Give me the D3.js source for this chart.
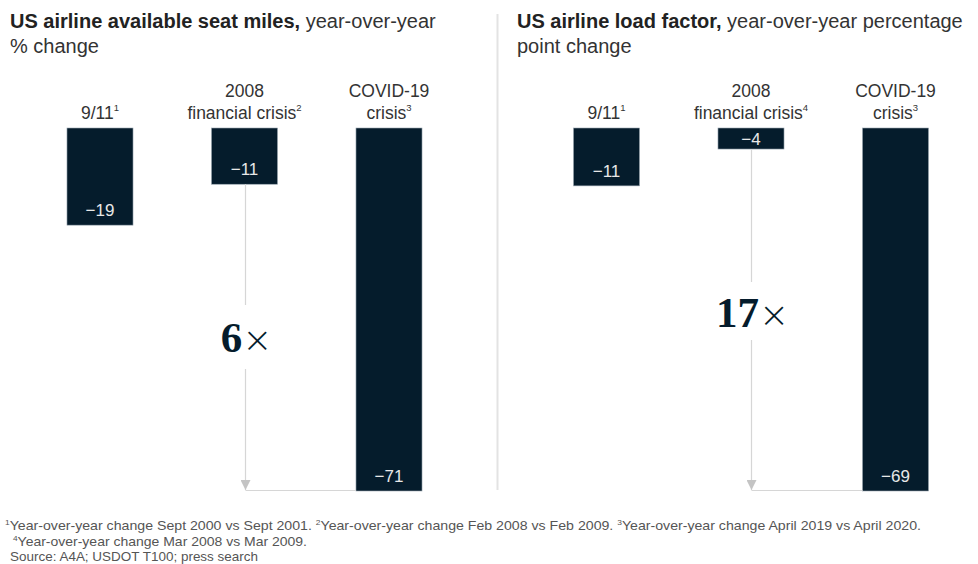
<!DOCTYPE html>
<html>
<head>
<meta charset="utf-8">
<script src="https://cdn.jsdelivr.net/npm/d3@7"></script>
<style>
  html, body { margin: 0; padding: 0; background: #fff; }
  svg { display: block; font-family: "Liberation Sans", Arial, sans-serif; }
</style>
</head>
<body>
<svg id="chart" width="978" height="564"></svg>
<script>
// Crisis categories (label lines + footnote marker)
const categories = ["9/11", "2008 financial crisis", "COVID-19 crisis"];
const seatLabels = [["9/11", "1"], ["2008", "financial crisis", "2"], ["COVID-19", "crisis", "3"]];
const loadLabels = [["9/11", "1"], ["2008", "financial crisis", "4"], ["COVID-19", "crisis", "3"]];

// Year-over-year changes
const seatMilesChange = [-19, -11, -71];   // % change
const loadFactorChange = [-11, -4, -69];   // percentage points

const seatMultiple = "6";
const loadMultiple = "17";

const footnotes = [
  [["1", "Year-over-year change Sept 2000 vs Sept 2001.  "], ["2", "Year-over-year change Feb 2008 vs Feb 2009.  "], ["3", "Year-over-year change April 2019 vs April 2020."]],
  [["4", "Year-over-year change Mar 2008 vs Mar 2009."]],
  [["", "Source: A4A; USDOT T100; press search"]]
];
const footnoteWidths = [916, 294, 248];

const navy = "#051c2c";
const svg = d3.select("#chart");

// Thin divider between panels
svg.append("line")
  .attr("x1", 497.5).attr("x2", 497.5).attr("y1", 14).attr("y2", 490)
  .attr("stroke", "#e3e3e3").attr("stroke-width", 2);

svg.append("defs").append("marker")
  .attr("id", "arrow").attr("viewBox", "0 0 10 10")
  .attr("refX", 10).attr("refY", 5)
  .attr("markerWidth", 12).attr("markerHeight", 10)
  .attr("markerUnits", "userSpaceOnUse")
  .attr("orient", "auto")
  .append("path").attr("d", "M0,0 L10,5 L0,10 Z").attr("fill", "#c4c4c4");

function panel(opts) {
  const g = svg.append("g");

  // Title: bold lead + regular continuation
  const t = g.append("text").attr("x", opts.tx).attr("y", 28)
    .attr("font-size", 20).attr("fill", "#222");
  t.append("tspan").attr("font-weight", "bold").text(opts.titleBold);
  t.append("tspan").attr("fill", "#333").text(opts.titleRest);
  g.append("text").attr("x", opts.tx).attr("y", 53)
    .attr("font-size", 20).attr("fill", "#333").text(opts.title2);

  const x = d3.scaleBand().domain(categories)
    .range(opts.xRange).paddingInner(0.543).paddingOuter(0.2715);
  const y = d3.scaleLinear().domain([0, d3.min(opts.values)]).range([128, 491]);

  const data = categories.map((c, i) => ({ cat: c, v: opts.values[i], lab: opts.labels[i] }));

  // Category labels above bars
  data.forEach(d => {
    const cx = x(d.cat) + x.bandwidth() / 2;
    const lines = d.lab.slice(0, -1);
    const sup = d.lab[d.lab.length - 1];
    lines.forEach((ln, k) => {
      const txt = g.append("text")
        .attr("x", cx).attr("y", 119 - (lines.length - 1 - k) * 22)
        .attr("text-anchor", "middle").attr("font-size", 17.5).attr("fill", "#333");
      txt.append("tspan").text(ln);
      if (k === lines.length - 1) {
        txt.append("tspan").attr("font-size", 9.5).attr("dy", -8).text(sup);
      }
    });
  });

  // Bars
  g.selectAll("rect.bar").data(data).join("rect")
    .attr("class", "bar")
    .attr("x", d => x(d.cat))
    .attr("width", x.bandwidth())
    .attr("y", y(0))
    .attr("height", d => y(d.v) - y(0))
    .attr("fill", navy)
    .attr("stroke", "#9aa6b0").attr("stroke-width", 0.6);

  // Value labels inside bars
  g.selectAll("text.val").data(data).join("text")
    .attr("class", "val")
    .attr("x", d => x(d.cat) + x.bandwidth() / 2)
    .attr("y", d => {
      const h = y(d.v) - y(0);
      return h < 30 ? y(0) + h / 2 + 6 : y(d.v) - 9;
    })
    .attr("text-anchor", "middle").attr("font-size", 17).attr("fill", "#e8e8e8")
    .text(d => "\u2212" + Math.abs(d.v));

  // Comparison arrow from the 2008 bar down to the COVID-19 bar depth
  const mid = data[1], big = data[2];
  const ax = Math.round(x(mid.cat) + x.bandwidth() / 2) + 0.5;
  const bottom = y(big.v);
  g.append("line").attr("x1", ax).attr("x2", ax)
    .attr("y1", y(mid.v)).attr("y2", opts.gap[0])
    .attr("stroke", "#d6d6d6").attr("stroke-width", 1.2);
  g.append("line").attr("x1", ax).attr("x2", ax)
    .attr("y1", opts.gap[1]).attr("y2", bottom - 1)
    .attr("stroke", "#d6d6d6").attr("stroke-width", 1.2)
    .attr("marker-end", "url(#arrow)");
  g.append("line").attr("x1", ax).attr("x2", x(big.cat))
    .attr("y1", bottom - 0.5).attr("y2", bottom - 0.5)
    .attr("stroke", "#d6d6d6").attr("stroke-width", 1.2);

  // Multiple annotation
  const m = g.append("text").attr("x", ax + 1).attr("y", opts.multY)
    .attr("text-anchor", "middle").attr("fill", navy)
    .attr("font-family", "'Liberation Serif', 'DejaVu Serif', serif");
  m.append("tspan").attr("font-size", 43).attr("font-weight", "bold").text(opts.multiple);
  m.append("tspan").attr("font-size", 36)
    .attr("font-family", "'DejaVu Sans', sans-serif")
    .attr("font-weight", 200).text("\u00d7");
}

panel({
  tx: 10, titleBold: "US airline available seat miles,", titleRest: " year-over-year",
  title2: "% change", xRange: [27.75, 461.25],
  values: seatMilesChange, labels: seatLabels,
  multiple: seatMultiple, multY: 352, gap: [305, 369]
});

panel({
  tx: 517, titleBold: "US airline load factor,", titleRest: " year-over-year percentage",
  title2: "point change", xRange: [534.25, 967.75],
  values: loadFactorChange, labels: loadLabels,
  multiple: loadMultiple, multY: 327, gap: [282, 340]
});

// Footnotes
const fn = svg.append("g").attr("font-family", "'Liberation Sans Narrow', 'Liberation Sans', Arial, sans-serif")
  .attr("fill", "#555").attr("font-size", 13.5);
footnotes.forEach((line, i) => {
  const t = fn.append("text").attr("x", i === 0 ? 5 : (i === 1 ? 13 : 10)).attr("y", 530 + i * 15.5)
    .attr("textLength", footnoteWidths[i]).attr("lengthAdjust", "spacingAndGlyphs");
  line.forEach(([sup, txt]) => {
    if (sup) t.append("tspan").attr("font-size", 8).attr("dy", -5).text(sup);
    t.append("tspan").attr("dy", sup ? 5 : 0).text(txt);
  });
});
</script>
</body>
</html>
